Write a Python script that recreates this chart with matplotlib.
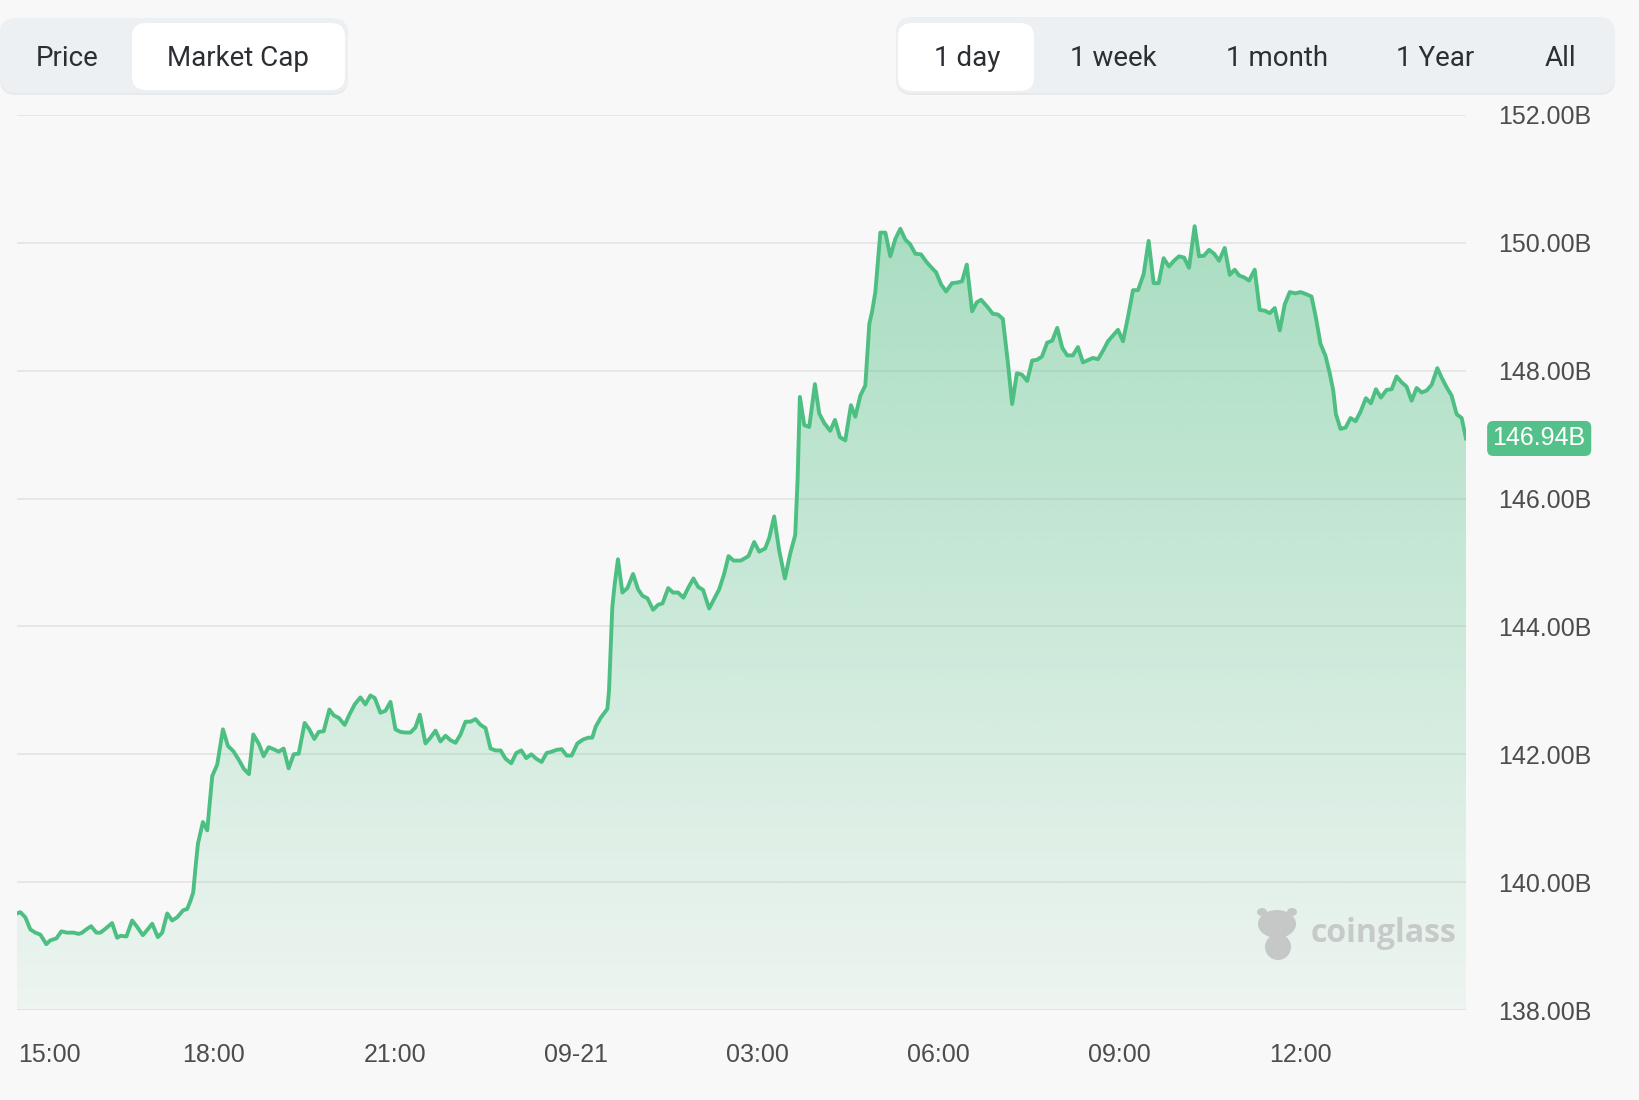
import numpy as np
import matplotlib
matplotlib.use("Agg")
import matplotlib.pyplot as plt
from matplotlib.patches import FancyBboxPatch, Polygon, Ellipse
from matplotlib.transforms import IdentityTransform, ScaledTranslation
from matplotlib.colors import to_rgb

plt.rcParams['font.family'] = ['Liberation Sans', 'DejaVu Sans']

# hours after 15:00 (day 1), market cap in billions
hours = [
    -0.257, -0.202, -0.119, -0.036, 0.046, 0.129, 0.229, 0.295, 0.395, 0.478,
    0.572, 0.683, 0.766, 0.821, 0.904, 0.970, 1.058, 1.124, 1.207, 1.318,
    1.401, 1.456, 1.556, 1.650, 1.733, 1.827, 1.899, 1.982, 2.076, 2.148,
    2.231, 2.313, 2.396, 2.496, 2.562, 2.617, 2.662, 2.700, 2.740, 2.822,
    2.894, 2.938, 2.977, 3.060, 3.154, 3.237, 3.325, 3.419, 3.502, 3.585,
    3.657, 3.751,
    3.828, 3.911, 3.994, 4.077, 4.160, 4.243, 4.326, 4.409, 4.508, 4.585,
    4.668, 4.740, 4.823, 4.917, 4.989, 5.072, 5.171, 5.249, 5.337, 5.431,
    5.514, 5.597, 5.669, 5.763, 5.846, 5.929, 6.012, 6.095, 6.178, 6.260,
    6.343, 6.415, 6.509, 6.592, 6.675, 6.758, 6.841, 6.924, 7.007, 7.090,
    7.172, 7.255, 7.338, 7.421, 7.504, 7.587, 7.670, 7.753,
    7.836, 7.930, 8.013, 8.096, 8.179, 8.262, 8.345, 8.433, 8.516, 8.599,
    8.682, 8.765, 8.848, 8.930, 9.025, 9.118, 9.206, 9.272, 9.328, 9.411,
    9.522, 9.549, 9.604, 9.643, 9.698, 9.771, 9.854, 9.948, 10.031, 10.103,
    10.186, 10.280, 10.363, 10.436, 10.530, 10.610, 10.693, 10.782, 10.865, 10.948,
    11.025, 11.108, 11.208, 11.291, 11.374, 11.456, 11.529, 11.612, 11.733,
    11.860, 11.954, 12.037, 12.136, 12.202, 12.285, 12.368, 12.463, 12.551, 12.634,
    12.673, 12.711, 12.783, 12.866, 12.960, 13.032, 13.115, 13.214, 13.292, 13.375,
    13.463, 13.557, 13.629, 13.712, 13.795, 13.861, 13.906, 13.961, 14.044, 14.127,
    14.209, 14.292, 14.375, 14.458, 14.536, 14.624, 14.718, 14.801, 14.884, 14.967,
    15.050, 15.133, 15.232, 15.326, 15.398, 15.476, 15.564, 15.642, 15.713,
    15.824, 15.907, 15.990, 16.073, 16.156, 16.227, 16.305, 16.388, 16.476, 16.559,
    16.637, 16.720, 16.808, 16.891, 16.974, 17.057, 17.139, 17.233, 17.317, 17.400,
    17.493, 17.566, 17.649, 17.731, 17.814, 17.897, 17.980, 18.063, 18.146, 18.229,
    18.312, 18.405, 18.488, 18.571, 18.654, 18.736, 18.825, 18.908, 18.991, 19.074,
    19.157, 19.250, 19.323, 19.406, 19.489, 19.572, 19.655,
    19.748, 19.831, 19.914, 19.986, 20.069, 20.152, 20.245, 20.328, 20.411, 20.494,
    20.577, 20.660, 20.743, 20.826, 20.920, 21.003, 21.091, 21.186, 21.257, 21.335,
    21.418, 21.490, 21.546, 21.590, 21.667, 21.750, 21.833, 21.916, 21.998, 22.087,
    22.170, 22.253, 22.335, 22.430, 22.513, 22.595, 22.678, 22.761, 22.844, 22.927,
    23.010, 23.093, 23.176, 23.270, 23.342, 23.425, 23.507, 23.590, 23.673, 23.745,
]
mcap = [
    139.51, 139.53, 139.45, 139.26, 139.21, 139.18, 139.03, 139.09, 139.12, 139.23,
    139.21, 139.21, 139.19, 139.21, 139.27, 139.31, 139.21, 139.21, 139.27, 139.36,
    139.13, 139.16, 139.15, 139.40, 139.30, 139.17, 139.25, 139.35, 139.14, 139.21,
    139.51, 139.40, 139.45, 139.56, 139.58, 139.71, 139.84, 140.23, 140.60, 140.94,
    140.81, 141.27, 141.66, 141.84, 142.39, 142.13, 142.05, 141.91, 141.77, 141.69,
    142.31, 142.16,
    141.97, 142.11, 142.08, 142.04, 142.09, 141.78, 142.00, 142.01, 142.49, 142.39,
    142.24, 142.35, 142.36, 142.70, 142.61, 142.57, 142.46, 142.62, 142.78, 142.89,
    142.78, 142.92, 142.88, 142.65, 142.68, 142.82, 142.39, 142.35, 142.34, 142.34,
    142.42, 142.62, 142.17, 142.26, 142.37, 142.20, 142.29, 142.22, 142.18, 142.31,
    142.51, 142.51, 142.55, 142.46, 142.41, 142.09, 142.06, 142.06,
    141.93, 141.86, 142.02, 142.06, 141.94, 142.00, 141.93, 141.88, 142.02, 142.04,
    142.07, 142.08, 141.98, 141.98, 142.17, 142.23, 142.26, 142.26, 142.43, 142.57,
    142.71, 142.99, 144.30, 144.66, 145.05, 144.53, 144.60, 144.82, 144.58, 144.48,
    144.44, 144.26, 144.34, 144.36, 144.60, 144.53, 144.53, 144.45, 144.61, 144.75,
    144.62, 144.57, 144.28, 144.43, 144.58, 144.82, 145.10, 145.03, 145.03,
    145.10, 145.32, 145.17, 145.22, 145.38, 145.72, 145.19, 144.75, 145.14, 145.43,
    146.29, 147.59, 147.15, 147.12, 147.79, 147.33, 147.18, 147.06, 147.23, 146.96,
    146.91, 147.46, 147.28, 147.61, 147.77, 148.73, 148.92, 149.23, 150.16, 150.16,
    149.79, 150.06, 150.22, 150.05, 149.98, 149.83, 149.82, 149.71, 149.62, 149.54,
    149.35, 149.24, 149.37, 149.38, 149.40, 149.66, 148.93, 149.07, 149.11,
    148.99, 148.89, 148.88, 148.81, 148.13, 147.48, 147.96, 147.94, 147.84, 148.16,
    148.17, 148.22, 148.44, 148.47, 148.67, 148.36, 148.24, 148.24, 148.37, 148.13,
    148.17, 148.20, 148.18, 148.31, 148.46, 148.55, 148.64, 148.46, 148.84, 149.26,
    149.26, 149.51, 150.03, 149.37, 149.37, 149.76, 149.63, 149.72, 149.79, 149.77,
    149.61, 150.26, 149.79, 149.80, 149.89, 149.83, 149.72,
    149.92, 149.50, 149.58, 149.49, 149.46, 149.41, 149.58, 148.95, 148.94, 148.90,
    148.98, 148.63, 149.04, 149.23, 149.21, 149.23, 149.20, 149.16, 148.84, 148.42,
    148.23, 147.95, 147.69, 147.32, 147.09, 147.11, 147.26, 147.21, 147.36, 147.57,
    147.49, 147.71, 147.58, 147.70, 147.71, 147.91, 147.82, 147.75, 147.53, 147.73,
    147.66, 147.69, 147.78, 148.04, 147.89, 147.74, 147.61, 147.32, 147.26, 146.94,
]

tick_hours = [0, 3, 6, 9, 12, 15, 18, 21]
tick_labels = ['15:00', '18:00', '21:00', '09-21', '03:00', '06:00', '09:00', '12:00']
y_ticks = [138, 140, 142, 144, 146, 148, 150, 152]

left_buttons = ['Price', 'Market Cap']
left_centers = [67, 238]
right_buttons = ['1 day', '1 week', '1 month', '1 Year', 'All']
right_centers = [967, 1113, 1277, 1435, 1560]

W, H = 1640, 1100
BG = '#f8f8f8'
GREEN = '#4dbf82'
TXT = '#4d4d4d'

fig = plt.figure(figsize=(W / 100, H / 100), dpi=100, facecolor=BG)
ax = fig.add_axes([17 / W, 1 - 1010 / H, (1466 - 17) / W, (1010 - 115) / H])
ax.set_facecolor(BG)

# gradient fill under the line
rgb = to_rgb(GREEN)
grad = np.zeros((256, 1, 4))
grad[..., :3] = rgb
grad[:, 0, 3] = np.linspace(0.06, 0.52, 256)
im = ax.imshow(grad, extent=[hours[0], hours[-1], 138, 152], origin='lower',
               aspect='auto', zorder=1, interpolation='bilinear')
verts = list(zip(hours, mcap)) + [(hours[-1], 138), (hours[0], 138)]
clip = Polygon(verts, closed=True, facecolor='none', edgecolor='none')
ax.add_patch(clip)
im.set_clip_path(clip)

ax.plot(hours, mcap, color=GREEN, lw=2.8, zorder=3, solid_joinstyle='round')

ax.set_xlim(hours[0], hours[-1])
ax.set_ylim(138, 152)

ax.set_yticks(y_ticks)
ax.set_yticklabels([f'{v:.2f}B' for v in y_ticks])
ax.yaxis.tick_right()
ax.tick_params(axis='y', length=0, pad=23, labelsize=18, labelcolor=TXT)
ax.set_xticks(tick_hours, tick_labels)
ax.tick_params(axis='x', length=0, pad=24, labelsize=18, labelcolor=TXT)
ax.grid(axis='y', color='#e2e2e2', lw=1.1, zorder=0)
ax.set_axisbelow(True)
for s in ax.spines.values():
    s.set_visible(False)

# first time label sits inside the figure edge
lab0 = ax.get_xticklabels()[0]
lab0.set_horizontalalignment('left')
lab0.set_transform(lab0.get_transform() + ScaledTranslation(-0.14, 0, fig.dpi_scale_trans))

# last value badge
ax.text(1.0505, mcap[-1], f'{mcap[-1]:.2f}B', transform=ax.get_yaxis_transform(),
        ha='center', va='center', color='white', fontsize=18, clip_on=False,
        bbox=dict(boxstyle='round,pad=0.22,rounding_size=0.25', fc='#55c18a', ec='none'))

# watermark
ax.text(0.893, 0.085, 'coinglass', transform=ax.transAxes, ha='left', va='center',
        fontsize=23, fontweight='bold', color='#c6cac8', family='Open Sans', zorder=2)
px = IdentityTransform()
for cx, cy, w, h in [(1277, 924, 38, 28), (1278, 947, 26, 26), (1262, 912, 10, 8), (1292, 912, 10, 8)]:
    fig.add_artist(Ellipse((cx, H - cy), w, h, transform=px, fc='#c6c8c7', ec='none'))


def box(x0, y0, x1, y1, r, fc, ec='none'):
    p = FancyBboxPatch((x0, H - y1), x1 - x0, y1 - y0,
                       boxstyle=f'round,pad=0,rounding_size={r}',
                       transform=px, fc=fc, ec=ec, lw=1)
    fig.add_artist(p)


# button groups
box(0, 19, 348, 95, 16, '#e7e9eb')
box(0, 18, 348, 93, 16, '#edf0f2')
box(132, 23, 345, 90, 14, '#ffffff')
box(896, 19, 1615, 95, 16, '#e7e9eb')
box(896, 17, 1615, 93, 16, '#edf0f2')
box(898, 23, 1034, 91, 14, '#ffffff')

for name, cx in zip(left_buttons, left_centers):
    fig.text(cx, H - 59, name, transform=px, ha='center', va='center',
             fontsize=20, color='#2b2f33', family='Roboto')
for name, cx in zip(right_buttons, right_centers):
    fig.text(cx, H - 59, name, transform=px, ha='center', va='center',
             fontsize=20, color='#2b2f33', family='Roboto')

fig.savefig('out.png', dpi=100, facecolor=BG)
